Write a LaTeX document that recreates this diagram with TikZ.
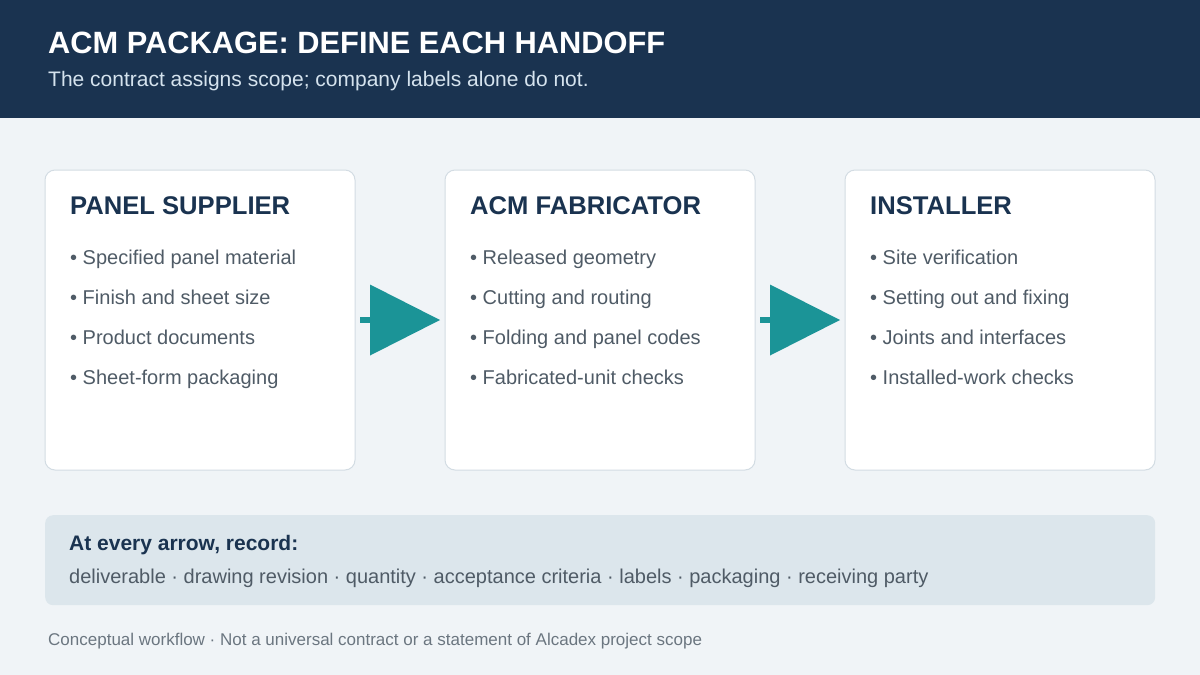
\documentclass[tikz,border=0pt]{standalone}
\usepackage{fontspec}
\setmainfont{Liberation Sans}
\usetikzlibrary{arrows.meta,positioning,calc}
\definecolor{navy}{HTML}{1A3350}
\definecolor{pagebg}{HTML}{F0F4F7}
\definecolor{cardline}{HTML}{D3DCE3}
\definecolor{itemgrey}{HTML}{4F5B66}
\definecolor{subtext}{HTML}{D5E3EE}
\definecolor{handteal}{HTML}{1B9497}
\definecolor{recfill}{HTML}{DCE6EC}
\definecolor{footgrey}{HTML}{6B7680}

\begin{document}
\begin{tikzpicture}[
		  x=1pt, y=-1pt, node distance=90pt,
		  card/.style={draw=cardline, fill=white, line width=1pt, rounded corners=10pt, minimum width=310pt, minimum height=300pt, inner sep=0pt, outer sep=0pt},
		  cardtitle/.style={anchor=base west, inner sep=0pt, text=navy, font=\fontsize{25.6}{30}\selectfont\bfseries},
		  item/.style={anchor=base west, inner sep=0pt, text=itemgrey, font=\fontsize{20}{24}\selectfont},
		  handoff/.style={draw=handteal, line width=6pt, -{Triangle[length=70pt, width=71pt, line width=0pt]}, shorten <=5pt, shorten >=5pt}
		]
		\useasboundingbox (0,0) rectangle (1200,675);
		\fill[pagebg] (0,0) rectangle (1200,675);
		\fill[navy] (0,0) rectangle (1200,118);
		\node[anchor=base west, inner sep=0pt, text=white, font=\fontsize{30.8}{34}\selectfont\bfseries] (title) at (48,53) {ACM PACKAGE: DEFINE EACH HANDOFF};
		\node[anchor=base west, inner sep=0pt, text=subtext, font=\fontsize{21}{25}\selectfont] (subtitle) at (48,86) {The contract assigns scope; company labels alone do not.};
		
		% the three parties
		\node[card, anchor=north west] (supplier) at (45,170) {};
		\node[card, right=of supplier] (fabricator) {};
		\node[card, right=of fabricator] (installer) {};
		
		\node[cardtitle] (sup_title) at ($(supplier.north west)+(25,44)$) {PANEL SUPPLIER};
		\node[item] (sup_b1) at ($(supplier.north west)+(25,94)$) {• Specified panel material};
		\node[item] (sup_b2) at ($(supplier.north west)+(25,134)$) {• Finish and sheet size};
		\node[item] (sup_b3) at ($(supplier.north west)+(25,174)$) {• Product documents};
		\node[item] (sup_b4) at ($(supplier.north west)+(25,214)$) {• Sheet-form packaging};
		
		\node[cardtitle] (fab_title) at ($(fabricator.north west)+(25,44)$) {ACM FABRICATOR};
		\node[item] (fab_b1) at ($(fabricator.north west)+(25,94)$) {• Released geometry};
		\node[item] (fab_b2) at ($(fabricator.north west)+(25,134)$) {• Cutting and routing};
		\node[item] (fab_b3) at ($(fabricator.north west)+(25,174)$) {• Folding and panel codes};
		\node[item] (fab_b4) at ($(fabricator.north west)+(25,214)$) {• Fabricated-unit checks};
		
		\node[cardtitle] (ins_title) at ($(installer.north west)+(25,44)$) {INSTALLER};
		\node[item] (ins_b1) at ($(installer.north west)+(25,94)$) {• Site verification};
		\node[item] (ins_b2) at ($(installer.north west)+(25,134)$) {• Setting out and fixing};
		\node[item] (ins_b3) at ($(installer.north west)+(25,174)$) {• Joints and interfaces};
		\node[item] (ins_b4) at ($(installer.north west)+(25,214)$) {• Installed-work checks};
		
		\draw[handoff] (supplier) -- (fabricator);
		\draw[handoff] (fabricator) -- (installer);
		
		% record strip
		\node[fill=recfill, rounded corners=8pt, minimum width=1110pt, minimum height=90pt, inner sep=0pt, anchor=north west] (record) at (45,515) {};
		\node[anchor=base west, inner sep=0pt, text=navy, font=\fontsize{21}{25}\selectfont\bfseries] (rec_head) at ($(record.north west)+(24,35)$) {At every arrow, record:};
		\node[item] (rec_list) at ($(record.north west)+(24,68)$) {deliverable · drawing revision · quantity · acceptance criteria · labels · packaging · receiving party};
		
		\node[anchor=base west, inner sep=0pt, text=footgrey, font=\fontsize{17}{20}\selectfont] (footer) at (48,645) {Conceptual workflow · Not a universal contract or a statement of Alcadex project scope};
		\end{tikzpicture}
\end{document}
